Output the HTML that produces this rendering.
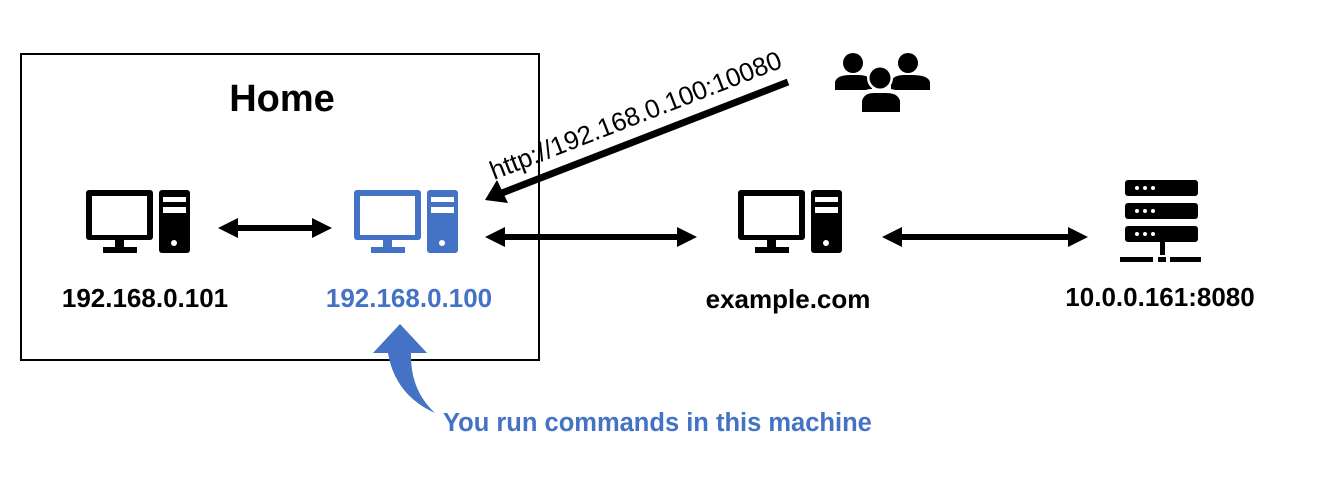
<!DOCTYPE html>
<html><head><style>
html,body{margin:0;padding:0;background:#fff;}
body{width:1332px;height:488px;overflow:hidden;position:relative;font-family:"Liberation Sans",sans-serif;}
.t{position:absolute;font-weight:bold;font-size:26px;white-space:nowrap;transform:translateX(-50%);line-height:30px;}
</style></head><body>
<svg width="1332" height="488" style="position:absolute;left:0;top:0">
<defs>
<g id="pc">
<rect x="0" y="0" width="67" height="50" rx="3"/>
<rect x="6" y="6" width="55" height="39" fill="#fff"/>
<rect x="29" y="50" width="9" height="8"/>
<rect x="17" y="57" width="34" height="6"/>
<rect x="73" y="0" width="31" height="63" rx="3"/>
<rect x="77" y="7" width="23" height="5" fill="#fff"/>
<rect x="77" y="17" width="23" height="6" fill="#fff"/>
<circle cx="88" cy="53" r="3" fill="#fff"/>
</g>
</defs>
<rect x="21" y="54" width="518" height="306" fill="none" stroke="#000" stroke-width="2"/>
<use href="#pc" x="86" y="190" fill="#000"/>
<use href="#pc" x="354" y="190" fill="#4472C4"/>
<use href="#pc" x="738" y="190" fill="#000"/>
<g fill="#000">
<rect x="236" y="225" width="78" height="6"/><polygon points="218,228 238,218 238,238"/><polygon points="332,228 312,218 312,238"/>
<rect x="503" y="234" width="176" height="6"/><polygon points="485,237 505,227 505,247"/><polygon points="697,237 677,227 677,247"/>
<rect x="900" y="234" width="170" height="6"/><polygon points="882,237 902,227 902,247"/><polygon points="1088,237 1068,227 1068,247"/>
</g>
<line x1="788" y1="82" x2="502" y2="193" stroke="#000" stroke-width="7"/>
<polygon points="485,200 497,180 508,203" fill="#000"/>
<g fill="#000">
<rect x="1125" y="180" width="73" height="16" rx="3"/>
<rect x="1125" y="203" width="73" height="16" rx="3"/>
<rect x="1125" y="226" width="73" height="16" rx="3"/>
<rect x="1160" y="242" width="5" height="13"/>
<rect x="1120" y="257" width="33" height="5"/><rect x="1158" y="257" width="8" height="5"/><rect x="1170" y="257" width="31" height="5"/>
</g>
<g fill="#fff">
<circle cx="1137" cy="188" r="2"/><circle cx="1145" cy="188" r="2"/><circle cx="1153" cy="188" r="2"/>
<circle cx="1137" cy="211" r="2"/><circle cx="1145" cy="211" r="2"/><circle cx="1153" cy="211" r="2"/>
<circle cx="1137" cy="234" r="2"/><circle cx="1145" cy="234" r="2"/><circle cx="1153" cy="234" r="2"/>
</g>
<g fill="#000">
<circle cx="853" cy="63" r="10"/><path d="M835,90 L835,82 Q837,75 850,75 L858,75 Q870,75 872,82 L872,90 Z"/>
<circle cx="908" cy="63" r="10"/><path d="M891,90 L891,82 Q893,75 904,75 L912,75 Q928,75 930,82 L930,90 Z"/>
</g>
<circle cx="880" cy="78" r="13" fill="#fff"/>
<circle cx="880" cy="78" r="10.5" fill="#000"/>
<path d="M858,114 L858,100 Q860,89 872,89 L888,89 Q902,89 904,100 L904,114 Z" fill="#fff"/>
<path d="M862,112 L862,101 Q864,93 874,93 L886,93 Q898,93 900,101 L900,112 Z" fill="#000"/>
<path d="M400,324 L427,353 L411,353 Q410,390 435,413 Q395,395 388,353 L373,353 Z" fill="#4472C4"/>
<text x="0" y="0" transform="translate(494,180) rotate(-21.3)" font-family="Liberation Sans, sans-serif" font-size="26">http://192.168.0.100:10080</text>
</svg>
<div class="t" style="left:282px;top:77px;font-size:38px;line-height:44px">Home</div>
<div class="t" style="left:145px;top:283px">192.168.0.101</div>
<div class="t" style="left:409px;top:283px;color:#4472C4">192.168.0.100</div>
<div class="t" style="left:788px;top:284px">example.com</div>
<div class="t" style="left:1160px;top:282px">10.0.0.161:8080</div>
<div class="t" style="left:443px;top:408px;transform:none;color:#4472C4;font-size:25.5px">You run commands in this machine</div>
</body></html>
